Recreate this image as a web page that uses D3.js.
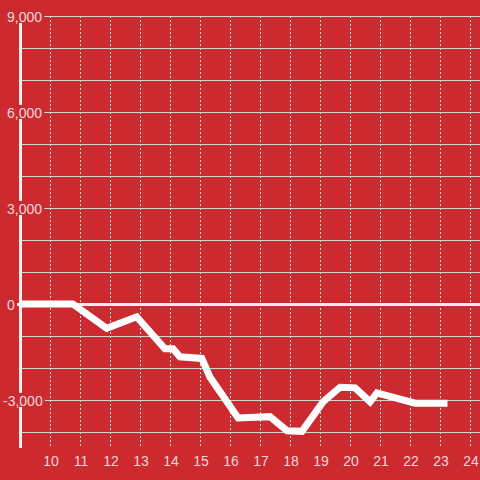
<!DOCTYPE html>
<html>
<head>
<meta charset="utf-8">
<script src="https://cdn.jsdelivr.net/npm/d3@7"></script>
<style>
  body { margin: 0; background: #cc2a2f; }
  svg { display: block; font-family: 'Liberation Sans', Arial, sans-serif; }
</style>
</head>
<body>
<div id="chart"></div>
<script>
// hours of the day and the running value
const hours = [9, 10.76, 11.89, 12.89, 13.83, 14.1, 14.33, 15.06, 15.33, 16.27, 17.33, 17.9, 18.4, 19.1, 19.67, 20.17, 20.67, 20.9, 22.17, 23.25]
const values = [0, 0, -760, -400, -1400, -1400, -1650, -1700, -2280, -3560, -3520, -3960, -3980, -3060, -2600, -2620, -3060, -2780, -3100, -3100]
const xTicks = [10, 11, 12, 13, 14, 15, 16, 17, 18, 19, 20, 21, 22, 23, 24]
const yLabelTicks = [-3000, 0, 3000, 6000, 9000]
const yGridTicks = d3.range(-4000, 9001, 1000)

const width = 480
const height = 480
const bg = '#cc2a2f'
const textColor = 'rgba(255,255,255,0.82)'

const svg = d3.select('#chart').append('svg')
  .attr('width', width)
  .attr('height', height)

svg.append('rect')
  .attr('width', width)
  .attr('height', height)
  .attr('fill', bg)

const x = d3.scaleLinear()
  .domain([9, 24])
  .range([20, 470])
const y = d3.scaleLinear()
  .domain([-4500, 9000])
  .range([448, 16])

// horizontal grid
svg.append('g')
  .selectAll('line')
  .data(yGridTicks)
  .enter().append('line')
  .attr('x1', 21)
  .attr('x2', width)
  .attr('y1', d => y(d) + 0.5)
  .attr('y2', d => y(d) + 0.5)
  .attr('stroke', '#d4d4d4')
  .attr('stroke-width', 1)

// vertical dotted grid
svg.append('g')
  .selectAll('line')
  .data(xTicks)
  .enter().append('line')
  .attr('x1', d => x(d) + 0.5)
  .attr('x2', d => x(d) + 0.5)
  .attr('y1', y(9000))
  .attr('y2', y(-4500))
  .attr('stroke', '#dcdcdc')
  .attr('stroke-width', 1)
  .attr('stroke-dasharray', '2,2')

// y axis line
svg.append('line')
  .attr('x1', 20.5)
  .attr('x2', 20.5)
  .attr('y1', y(9000))
  .attr('y2', y(-4500))
  .attr('stroke', '#eeeeee')
  .attr('stroke-width', 3)

// zero line
svg.append('line')
  .attr('x1', 17)
  .attr('x2', width)
  .attr('y1', y(0) + 0.5)
  .attr('y2', y(0) + 0.5)
  .attr('stroke', '#eeeeee')
  .attr('stroke-width', 3)

// data line
const line = d3.line()
  .x((d, i) => x(hours[i]))
  .y(d => y(d))

svg.append('path')
  .datum(values)
  .attr('fill', 'none')
  .attr('stroke', '#ffffff')
  .attr('stroke-width', 7)
  .attr('stroke-linejoin', 'miter')
  .attr('d', line)

// y labels with background
const yLab = svg.append('g')
  .selectAll('g')
  .data(yLabelTicks)
  .enter().append('g')

yLab.append('text')
  .attr('x', d => d < 0 ? 3 : 7)
  .attr('y', d => y(d) + 1)
  .attr('dy', '0.35em')
  .attr('fill', textColor)
  .attr('font-size', 14)
  .text(d => d3.format(',')(d).replace('−', '-'))

yLab.each(function () {
  const g = d3.select(this)
  const box = g.select('text').node().getBBox()
  g.insert('rect', 'text')
    .attr('x', box.x - 2)
    .attr('y', box.y)
    .attr('width', box.width + 4)
    .attr('height', box.height - 2)
    .attr('fill', bg)
})

// x labels
svg.append('g')
  .selectAll('text')
  .data(xTicks)
  .enter().append('text')
  .attr('x', d => x(d) + 1)
  .attr('y', 461)
  .attr('dy', '0.35em')
  .attr('text-anchor', 'middle')
  .attr('fill', textColor)
  .attr('font-size', 14)
  .text(d => d)
</script>
</body>
</html>
